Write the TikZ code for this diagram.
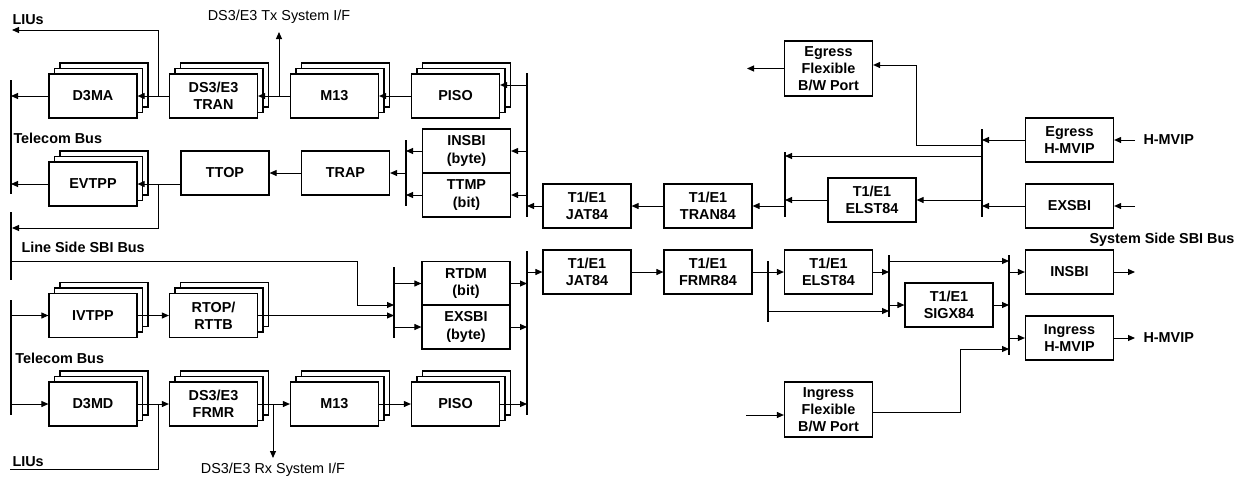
\documentclass[tikz,border=0pt]{standalone}
\usepackage{fontspec}
\setmainfont{Liberation Sans}
\usetikzlibrary{arrows.meta,positioning,shadows}

\newcommand\dgfont{\fontsize{7.2}{8.6}\selectfont}

\begin{document}
\begin{tikzpicture}[x=0.5pt, y=-0.5pt, line width=0.5pt, font=\dgfont,
  blk/.style={draw, fill=white, line width=0.6pt, minimum width=44pt, minimum height=22pt,
    inner sep=1pt, align=center, font=\dgfont\bfseries},
  stk/.style={blk,
    copy shadow={shadow xshift=5.5pt, shadow yshift=5.5pt, draw=black, fill=white, line width=0.6pt},
    copy shadow={shadow xshift=2.75pt, shadow yshift=2.75pt, draw=black, fill=white, line width=0.6pt}},
  tall/.style={blk, minimum height=27.5pt},
  lbl/.style={inner sep=0pt, anchor=west, font=\dgfont\bfseries},
  arr/.style={-{Triangle[length=3.5pt, width=3pt]}},
  bus/.style={line width=0.6pt}]
  \useasboundingbox (0,0) rectangle (1244,478);

  % line side, transmit
  \node[stk] (d3ma) at (93,96) {D3MA};
  \node[stk] (tran) at (213.5,96) {DS3/E3\\TRAN};
  \node[stk] (mtx) at (334.5,96) {M13};
  \node[stk] (pisotx) at (455.5,96) {PISO};
  \node[blk] (insbi) at (466.5,151) {INSBI\\(byte)};
  \node[blk] (ttmp) at (466.5,195) {TTMP\\(bit)};
  \node[blk] (trap) at (345.5,173) {TRAP};
  \node[blk] (ttop) at (225,173) {TTOP};
  \node[stk] (evtpp) at (93,184) {EVTPP};

  % line side, receive
  \node[stk] (ivtpp) at (93,315.5) {IVTPP};
  \node[stk] (rtop) at (213.5,315.5) {RTOP/\\RTTB};
  \node[blk] (rtdm) at (466,283.5) {RTDM\\(bit)};
  \node[blk] (exsbil) at (466,327) {EXSBI\\(byte)};
  \node[stk] (d3md) at (93,404) {D3MD};
  \node[stk] (frmr) at (213.5,404) {DS3/E3\\FRMR};
  \node[stk] (mrx) at (334.5,404) {M13};
  \node[stk] (pisorx) at (455.5,404) {PISO};

  % T1/E1 and system side
  \node[blk] (jatu) at (587,206) {T1/E1\\JAT84};
  \node[blk] (tran84) at (708,206) {T1/E1\\TRAN84};
  \node[blk] (elstu) at (872,200) {T1/E1\\ELST84};
  \node[tall] (egflex) at (828.5,68.5) {Egress\\Flexible\\B/W Port};
  \node[blk] (eghmvip) at (1069.5,140) {Egress\\H-MVIP};
  \node[blk] (exsbi) at (1069.5,206) {EXSBI};
  \node[blk] (jatl) at (587,272) {T1/E1\\JAT84};
  \node[blk] (frmr84) at (708,272) {T1/E1\\FRMR84};
  \node[blk] (elstl) at (828.5,272) {T1/E1\\ELST84};
  \node[blk] (sigx) at (949,305) {T1/E1\\SIGX84};
  \node[blk] (insbis) at (1069.5,272) {INSBI};
  \node[blk] (inhmvip) at (1069.5,338) {Ingress\\H-MVIP};
  \node[tall] (inflex) at (828.5,409.5) {Ingress\\Flexible\\B/W Port};

  % labels
  \node[lbl] (liua) at (12,20) {LIUs};
  \node[inner sep=0pt] (txifl) at (279,17) {DS3/E3 Tx System I/F};
  \node[lbl] (tbusa) at (13,138) {Telecom Bus};
  \node[lbl] (lsbl) at (21,247) {Line Side SBI Bus};
  \node[lbl] (tbusb) at (15,358) {Telecom Bus};
  \node[lbl] (liub) at (12,462) {LIUs};
  \node[inner sep=0pt] (rxifl) at (273,470) {DS3/E3 Rx System I/F};
  \node[lbl, anchor=center] (ssbl) at (1162,240) {System Side SBI Bus};
  \node[lbl] (hmvipa) at (1143,140) {H-MVIP};
  \node[lbl] (hmvipb) at (1143,338) {H-MVIP};

  % bus bars
  \coordinate (lbA1) at (11,80);    \coordinate (lbA2) at (11,194);
  \coordinate (lbB1) at (11,212);   \coordinate (lbB2) at (11,280);
  \coordinate (lbC1) at (11,300);   \coordinate (lbC2) at (11,415);
  \coordinate (txb1) at (527,73);   \coordinate (txb2) at (527,217);
  \coordinate (rxb1) at (527,251);  \coordinate (rxb2) at (527,415);
  \coordinate (tsb1) at (406,140);  \coordinate (tsb2) at (406,206);
  \coordinate (rsb1) at (394,267);  \coordinate (rsb2) at (394,338);
  \coordinate (eb1) at (785,152);   \coordinate (eb2) at (785,217);
  \coordinate (sb1) at (982,129);   \coordinate (sb2) at (982,217);
  \coordinate (fb1) at (768,261);   \coordinate (fb2) at (768,322);
  \coordinate (gb1) at (889,255);   \coordinate (gb2) at (889,317);
  \coordinate (hb1) at (1009,255);  \coordinate (hb2) at (1009,355);
  \foreach \a/\b in {lbA1/lbA2, lbB1/lbB2, lbC1/lbC2, txb1/txb2, rxb1/rxb2, tsb1/tsb2,
                     rsb1/rsb2, eb1/eb2, sb1/sb2, fb1/fb2, gb1/gb2, hb1/hb2}
    \draw[bus] (\a) -- (\b);

  % free ends
  \coordinate (liutx) at (12,30);
  \coordinate (txif) at (279,32);
  \coordinate (evout) at (12,228);
  \coordinate (lsb0) at (11,261);
  \coordinate (lsb1) at (357,261);
  \coordinate (lsb2) at (394,305);
  \coordinate (liurx) at (10,469);
  \coordinate (rxif) at (273,458);
  \coordinate (lng) at (982,156);
  \coordinate (egj) at (982,145);
  \coordinate (egk) at (916,145);
  \coordinate (egout) at (747,68.5);
  \coordinate (exin) at (1135,206);
  \coordinate (fbj) at (768,311);
  \coordinate (gbj) at (889,261);
  \coordinate (insout) at (1135,272);
  \coordinate (ifin) at (746,415);
  \coordinate (ifk) at (960,349);

  % transmit path
  \draw[arr] ([yshift=5.5pt]pisotx.east -| txb1) -- ([yshift=5.5pt]pisotx.east);
  \draw[arr] (pisotx.west) -- (mtx.east);
  \draw[arr] (mtx.west) -- (tran.east);
  \draw[arr] (txif |- mtx.west) -- (txif);
  \draw[arr] (tran.west) -- (d3ma.east);
  \draw[arr] ([xshift=10.5pt]d3ma.east) |- (liutx);
  \draw[arr] (d3ma.west) -- (d3ma.west -| lbA1);
  \draw[arr] (insbi.east -| txb1) -- (insbi.east);
  \draw[arr] (ttmp.east -| txb1) -- (ttmp.east);
  \draw[arr] (insbi.west) -- (insbi.west -| tsb1);
  \draw[arr] (ttmp.west) -- (ttmp.west -| tsb1);
  \draw[arr] (trap.east -| tsb1) -- (trap.east);
  \draw[arr] (trap.west) -- (ttop.east);
  \draw[arr] (ttop.west |- evtpp.east) -- (evtpp.east);
  \draw[arr] ([xshift=10.5pt]evtpp.east) |- (evout);
  \draw[arr] (evtpp.west) -- (evtpp.west -| lbA1);
  \draw[arr] (jatu.west) -- (jatu.west -| txb1);
  \draw[arr] (tran84.west) -- (jatu.east);
  \draw[arr] (tran84.east -| eb1) -- (tran84.east);
  \draw[arr] (elstu.west) -- (elstu.west -| eb1);
  \draw[arr] (elstu.east -| sb1) -- (elstu.east);
  \draw[arr] (lng) -- (lng -| eb1);
  \draw[arr] (egj) -- (egk) |- ([yshift=1.75pt]egflex.east);
  \draw[arr] (egflex.west) -- (egout);
  \draw[arr] (eghmvip.west) -- (eghmvip.west -| sb1);
  \draw[arr] (exsbi.west) -- (exsbi.west -| sb1);
  \draw[arr] ([xshift=-4pt]hmvipa.west) -- (eghmvip.east);
  \draw[arr] (exin) -- (exsbi.east);

  % receive path
  \draw[arr] (ivtpp.west -| lbC1) -- (ivtpp.west);
  \draw[arr] (d3md.west -| lbC1) -- (d3md.west);
  \draw[arr] (ivtpp.east) -- (rtop.west);
  \draw[arr] (rtop.east) -- (rtop.east -| rsb1);
  \draw[arr] (lsb0) -- (lsb1) |- (lsb2);
  \draw[arr] (rtdm.west -| rsb1) -- (rtdm.west);
  \draw[arr] (exsbil.west -| rsb1) -- (exsbil.west);
  \draw[arr] (rtdm.east) -- (rtdm.east -| rxb1);
  \draw[arr] (exsbil.east) -- (exsbil.east -| rxb1);
  \draw[arr] (jatl.west -| rxb1) -- (jatl.west);
  \draw[arr] (d3md.east) -- (frmr.west);
  \draw (liurx) -| ([xshift=10.5pt]d3md.east);
  \draw[arr] (frmr.east) -- (mrx.west);
  \draw[arr] (rxif |- frmr.east) -- (rxif);
  \draw[arr] (mrx.east) -- (pisorx.west);
  \draw[arr] (pisorx.east) -- (pisorx.east -| rxb1);
  \draw[arr] (jatl.east) -- (frmr84.west);
  \draw[arr] (frmr84.east) -- (elstl.west);
  \draw[arr] (fbj) -- (fbj -| gb1);
  \draw[arr] (elstl.east) -- (elstl.east -| gb1);
  \draw[arr] (gbj) -- (gbj -| hb1);
  \draw[arr] (sigx.west -| gb1) -- (sigx.west);
  \draw[arr] (sigx.east) -- (sigx.east -| hb1);
  \draw[arr] (insbis.west -| hb1) -- (insbis.west);
  \draw[arr] (inhmvip.west -| hb1) -- (inhmvip.west);
  \draw[arr] (insbis.east) -- (insout);
  \draw[arr] (inhmvip.east) -- ([xshift=-4pt]hmvipb.west);
  \draw[arr] ([yshift=-2.75pt]inflex.west -| ifin) -- ([yshift=-2.75pt]inflex.west);
  \draw[arr] ([yshift=-1.25pt]inflex.east) -| (ifk) -- (ifk -| hb1);
\end{tikzpicture}
\end{document}
